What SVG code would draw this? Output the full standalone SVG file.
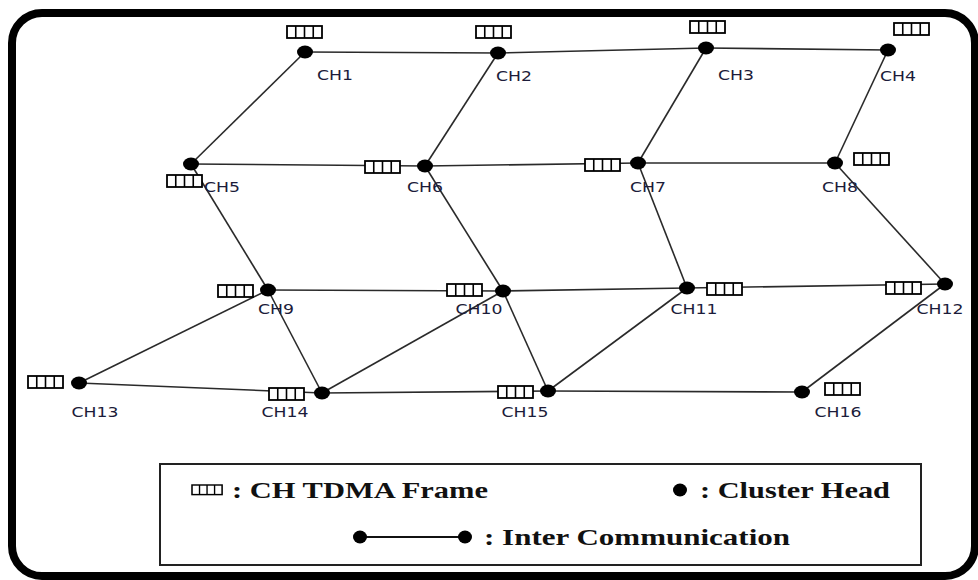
<svg xmlns="http://www.w3.org/2000/svg" xmlns:xlink="http://www.w3.org/1999/xlink" width="978" height="580" viewBox="0 0 978 580">
<style>
.edge{stroke:#2a2a2a;stroke-width:1.6;fill:none}
.dot{fill:#000}
.lbl{font-family:"DejaVu Sans",Verdana,sans-serif;font-size:14px;fill:#1c1c3a;text-anchor:middle}
.leg{font-family:"Liberation Serif","Times New Roman",serif;font-size:24px;font-weight:bold;fill:#111}
.fr{fill:#fff;stroke:#000;stroke-width:1.8}
</style>
<defs>
<g id="frame">
<rect class="fr" x="0" y="0" width="35" height="12"/>
<path d="M8.75 0V12M17.5 0V12M26.25 0V12" stroke="#000" stroke-width="1.6"/>
</g>
</defs>
<rect x="12" y="13" width="963" height="563" rx="30" fill="#fff" stroke="#000" stroke-width="8"/>
<g id="connectors">
<line class="edge" x1="305" y1="52" x2="498" y2="53"/>
<line class="edge" x1="498" y1="53" x2="706" y2="48"/>
<line class="edge" x1="706" y1="48" x2="888" y2="50"/>
<line class="edge" x1="305" y1="52" x2="191" y2="164"/>
<line class="edge" x1="498" y1="53" x2="425" y2="166"/>
<line class="edge" x1="706" y1="48" x2="638" y2="163"/>
<line class="edge" x1="888" y1="50" x2="835" y2="163"/>
<line class="edge" x1="191" y1="164" x2="425" y2="166"/>
<line class="edge" x1="425" y1="166" x2="638" y2="163"/>
<line class="edge" x1="638" y1="163" x2="835" y2="163"/>
<line class="edge" x1="191" y1="164" x2="268" y2="290"/>
<line class="edge" x1="425" y1="166" x2="503" y2="291"/>
<line class="edge" x1="638" y1="163" x2="687" y2="288"/>
<line class="edge" x1="835" y1="163" x2="945" y2="284"/>
<line class="edge" x1="268" y1="290" x2="503" y2="291"/>
<line class="edge" x1="503" y1="291" x2="687" y2="288"/>
<line class="edge" x1="687" y1="288" x2="945" y2="284"/>
<line class="edge" x1="268" y1="290" x2="79" y2="383"/>
<line class="edge" x1="268" y1="290" x2="322" y2="393"/>
<line class="edge" x1="503" y1="291" x2="322" y2="393"/>
<line class="edge" x1="503" y1="291" x2="548" y2="391"/>
<line class="edge" x1="687" y1="288" x2="548" y2="391"/>
<line class="edge" x1="945" y1="284" x2="802" y2="392"/>
<line class="edge" x1="79" y1="383" x2="322" y2="393"/>
<line class="edge" x1="322" y1="393" x2="548" y2="391"/>
<line class="edge" x1="548" y1="391" x2="802" y2="392"/>
</g>
<g id="CH1"><use xlink:href="#frame" x="287" y="26"/><ellipse class="dot" cx="305" cy="52" rx="8" ry="6.5"/><text class="lbl" x="335" y="80" textLength="36" lengthAdjust="spacingAndGlyphs">CH1</text></g>
<g id="CH2"><use xlink:href="#frame" x="476" y="26"/><ellipse class="dot" cx="498" cy="53" rx="8" ry="6.5"/><text class="lbl" x="514" y="81" textLength="36" lengthAdjust="spacingAndGlyphs">CH2</text></g>
<g id="CH3"><use xlink:href="#frame" x="690" y="21"/><ellipse class="dot" cx="706" cy="48" rx="8" ry="6.5"/><text class="lbl" x="736" y="80" textLength="36" lengthAdjust="spacingAndGlyphs">CH3</text></g>
<g id="CH4"><use xlink:href="#frame" x="894" y="23"/><ellipse class="dot" cx="888" cy="50" rx="8" ry="6.5"/><text class="lbl" x="898" y="81" textLength="36" lengthAdjust="spacingAndGlyphs">CH4</text></g>
<g id="CH5"><use xlink:href="#frame" x="167" y="175"/><ellipse class="dot" cx="191" cy="164" rx="8" ry="6.5"/><text class="lbl" x="222" y="192" textLength="36" lengthAdjust="spacingAndGlyphs">CH5</text></g>
<g id="CH6"><use xlink:href="#frame" x="365" y="161"/><ellipse class="dot" cx="425" cy="166" rx="8" ry="6.5"/><text class="lbl" x="425" y="192" textLength="36" lengthAdjust="spacingAndGlyphs">CH6</text></g>
<g id="CH7"><use xlink:href="#frame" x="585" y="159"/><ellipse class="dot" cx="638" cy="163" rx="8" ry="6.5"/><text class="lbl" x="648" y="192" textLength="36" lengthAdjust="spacingAndGlyphs">CH7</text></g>
<g id="CH8"><use xlink:href="#frame" x="854" y="153"/><ellipse class="dot" cx="835" cy="163" rx="8" ry="6.5"/><text class="lbl" x="840" y="192" textLength="36" lengthAdjust="spacingAndGlyphs">CH8</text></g>
<g id="CH9"><use xlink:href="#frame" x="218" y="285"/><ellipse class="dot" cx="268" cy="290" rx="8" ry="6.5"/><text class="lbl" x="276" y="314" textLength="36" lengthAdjust="spacingAndGlyphs">CH9</text></g>
<g id="CH10"><use xlink:href="#frame" x="447" y="284"/><ellipse class="dot" cx="503" cy="291" rx="8" ry="6.5"/><text class="lbl" x="479" y="314" textLength="47" lengthAdjust="spacingAndGlyphs">CH10</text></g>
<g id="CH11"><use xlink:href="#frame" x="707" y="283"/><ellipse class="dot" cx="687" cy="288" rx="8" ry="6.5"/><text class="lbl" x="694" y="314" textLength="47" lengthAdjust="spacingAndGlyphs">CH11</text></g>
<g id="CH12"><use xlink:href="#frame" x="886" y="282"/><ellipse class="dot" cx="945" cy="284" rx="8" ry="6.5"/><text class="lbl" x="940" y="314" textLength="47" lengthAdjust="spacingAndGlyphs">CH12</text></g>
<g id="CH13"><use xlink:href="#frame" x="28" y="376"/><ellipse class="dot" cx="79" cy="383" rx="8" ry="6.5"/><text class="lbl" x="95" y="417" textLength="47" lengthAdjust="spacingAndGlyphs">CH13</text></g>
<g id="CH14"><use xlink:href="#frame" x="269" y="388"/><ellipse class="dot" cx="322" cy="393" rx="8" ry="6.5"/><text class="lbl" x="285" y="417" textLength="47" lengthAdjust="spacingAndGlyphs">CH14</text></g>
<g id="CH15"><use xlink:href="#frame" x="498" y="386"/><ellipse class="dot" cx="548" cy="391" rx="8" ry="6.5"/><text class="lbl" x="525" y="417" textLength="47" lengthAdjust="spacingAndGlyphs">CH15</text></g>
<g id="CH16"><use xlink:href="#frame" x="825" y="383"/><ellipse class="dot" cx="802" cy="392" rx="8" ry="6.5"/><text class="lbl" x="838" y="417" textLength="47" lengthAdjust="spacingAndGlyphs">CH16</text></g>
<g id="legend">
<rect x="160" y="464" width="761" height="101" fill="#fff" stroke="#222" stroke-width="2"/>
<g transform="translate(192,485) scale(0.86,0.8)"><use xlink:href="#frame"/></g>
<text class="leg" x="232" y="498" textLength="256" lengthAdjust="spacingAndGlyphs">: CH TDMA Frame</text>
<ellipse class="dot" cx="680" cy="490" rx="7" ry="6.5"/>
<text class="leg" x="700" y="498" textLength="190" lengthAdjust="spacingAndGlyphs">: Cluster Head</text>
<line x1="360" y1="537" x2="465" y2="537" stroke="#111" stroke-width="2"/>
<ellipse class="dot" cx="360" cy="537" rx="7" ry="6.5"/>
<ellipse class="dot" cx="465" cy="537" rx="7" ry="6.5"/>
<text class="leg" x="484" y="545" textLength="306" lengthAdjust="spacingAndGlyphs">: Inter Communication</text>
</g>
</svg>
